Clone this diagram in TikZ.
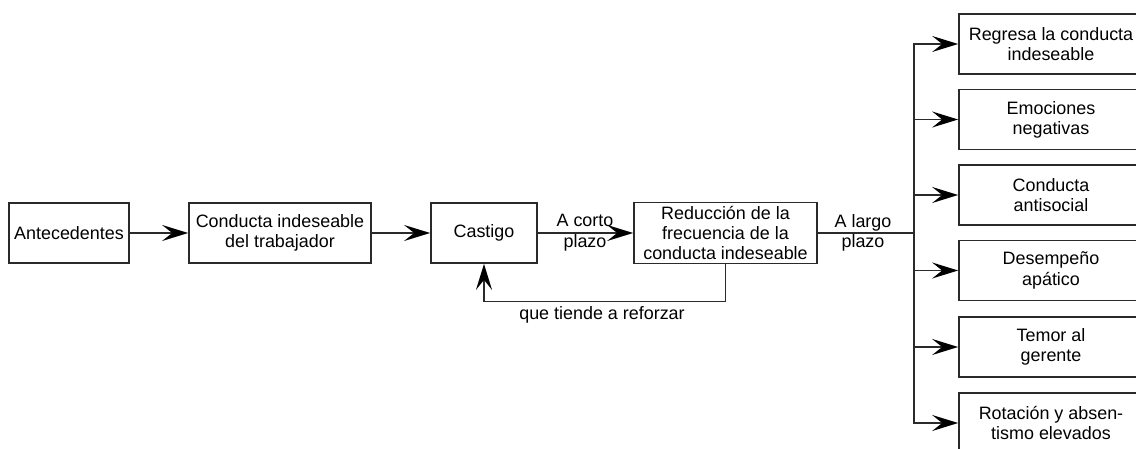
\documentclass[tikz,border=0pt]{standalone}
\usepackage{fontspec}
\setmainfont{Liberation Sans}
\usetikzlibrary{arrows.meta,positioning}
\tikzset{
mybox/.style={
  rectangle,
  line width=1pt,
  inner sep=2pt,
  minimum height=1.2cm,
  align=center,
  draw={rgb:black,5;white,1},
  font=\fontsize{10.2}{11.5}\selectfont,
  }
}
\tikzset{
myline/.style={
  line width=0.8pt,
  draw={rgb:black,5;white,1},
  -{Stealth[length=5.2mm,width=3.2mm,inset=2mm,color=black]}
  }
}
\tikzset{
mylabel/.style={
  align=center,
  inner sep=0pt,
  font=\fontsize{10.2}{11.8}\selectfont,
  }
}

\begin{document}
\begin{tikzpicture}[x=0.02cm,y=-0.02cm]
    \clip (0,0) rectangle (1136,449);

    % main chain
    \node[mybox, minimum width=2.4cm] (ante) at (69,233) {Antecedentes};
    \node[mybox, minimum width=3.64cm] (cond) at (280,233) {Conducta indeseable\\del trabajador};
    \node[mybox, minimum width=2.12cm] (cast) at (484,233) {Castigo};
    \node[mybox, minimum width=3.66cm] (red) at (725.5,233) {Reducción de la\\frecuencia de la\\conducta indeseable};

    % labels
    \node[mylabel] (corto) at (585,233) {A corto\\plazo};
    \node[mylabel] (largo) at (863,233) {A largo\\plazo};
    \node[mylabel] (refz) at (602,315) {que tiende a reforzar};
    \coordinate (fork) at (914,233);

    % long term part
    \node[mybox, minimum width=3.68cm] (r1) at (1051,44) {Regresa la conducta\\indeseable};
    \node[mybox, minimum width=3.68cm] (r2) at (1051,119.5) {Emociones\\negativas};
    \node[mybox, minimum width=3.68cm] (r3) at (1051,195) {Conducta\\antisocial};
    \node[mybox, minimum width=3.68cm] (r4) at (1051,270.5) {Desempeño\\apático};
    \node[mybox, minimum width=3.68cm] (r5) at (1051,347) {Temor al\\gerente};
    \node[mybox, minimum width=3.68cm] (r6) at (1051,423) {Rotación y absen-\\tismo elevados};

    % chain edges
    \draw[myline] (ante) -- (cond);
    \draw[myline] (cond) -- (cast);
    \draw[myline] (cast) -- (red);
    \draw[myline] (red.south) -- ++(0,37) -| (cast.south);

    % fork edges
    \draw[myline, -] (red) -- (fork);
    \draw[myline] (fork) |- (r1);
    \draw[myline] (fork) |- (r2);
    \draw[myline] (fork) |- (r3);
    \draw[myline] (fork) |- (r4);
    \draw[myline] (fork) |- (r5);
    \draw[myline] (fork) |- (r6);
\end{tikzpicture}
\end{document}
